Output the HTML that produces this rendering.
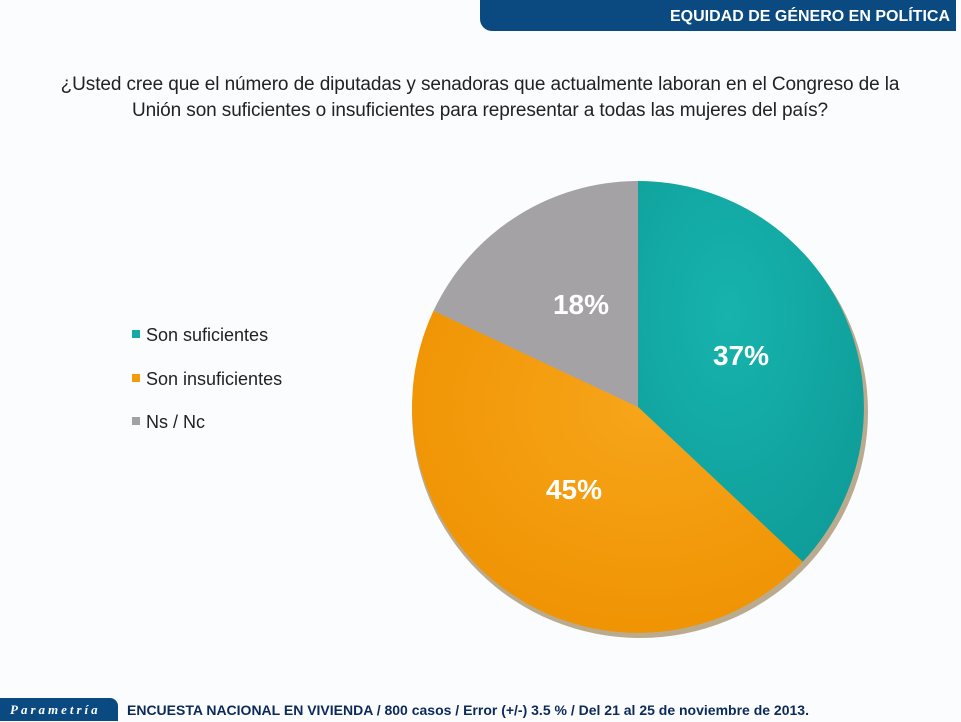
<!DOCTYPE html>
<html><head><meta charset="utf-8"><style>
body{margin:0;width:961px;height:721px;overflow:hidden;background:#fbfcfd;font-family:"Liberation Sans",sans-serif;position:relative}
.hdr{position:absolute;left:480px;top:0;width:476px;height:31px;background:#0b4a80;border-bottom-left-radius:12px;color:#fff;font-weight:bold;font-size:16px;text-align:right;box-sizing:border-box;padding-right:6px;line-height:33px}
.q{position:absolute;left:10px;top:72px;width:940px;text-align:center;font-size:19px;color:#222;line-height:26px;letter-spacing:-0.1px}
.leg{position:absolute;left:132px;font-size:18px;color:#222}
.leg i{display:inline-block;width:8px;height:8px;margin-right:6px;vertical-align:middle;position:relative;top:-2px}
.logo{position:absolute;left:0;top:698px;width:118px;height:23px;background:#0b4a80;border-top-right-radius:8px;color:#fff;font-family:"Liberation Serif",serif;font-style:italic;font-weight:bold;font-size:13px;letter-spacing:3px;line-height:24px;padding-left:10px;box-sizing:border-box}
.ft{position:absolute;left:127px;top:702px;font-size:14px;font-weight:bold;color:#0b2a5a}
</style></head><body>
<div class="hdr">EQUIDAD DE GÉNERO EN POLÍTICA</div>
<div class="q">¿Usted cree que el número de diputadas y senadoras que actualmente laboran en el Congreso de la<br>Unión son suficientes o insuficientes para representar a todas las mujeres del país?</div>
<div class="leg" style="top:325px"><i style="background:#13aaa5"></i>Son suficientes</div>
<div class="leg" style="top:369px"><i style="background:#f49b0b"></i>Son insuficientes</div>
<div class="leg" style="top:412px"><i style="background:#a3a1a3"></i>Ns / Nc</div>
<svg style="position:absolute;left:0;top:0" width="961" height="721">
<defs>
<radialGradient id="g1" cx="0.4" cy="0.35" r="0.8"><stop offset="0" stop-color="#17b3ad"/><stop offset="1" stop-color="#0e9b97"/></radialGradient>
<radialGradient id="g2" cx="0.6" cy="0.3" r="0.8"><stop offset="0" stop-color="#f7a51a"/><stop offset="1" stop-color="#ee9100"/></radialGradient>
</defs>
<ellipse cx="640" cy="412" rx="228" ry="226" fill="#7a5a20" opacity="0.5"/>
<path d="M638,407 L638,181 A226,226 0 0 1 802.7,561.7 Z" fill="url(#g1)"/>
<path d="M638,407 L802.7,561.7 A226,226 0 0 1 433.5,310.8 Z" fill="url(#g2)"/>
<path d="M638,407 L433.5,310.8 A226,226 0 0 1 638,181 Z" fill="#a4a2a4"/>
<g font-family="Liberation Sans" font-weight="bold" font-size="28" fill="#fff" text-anchor="middle">
<text x="741" y="365">37%</text>
<text x="574" y="499">45%</text>
<text x="581" y="314">18%</text>
</g>
</svg>
<div class="logo">Parametría</div>
<div class="ft">ENCUESTA NACIONAL EN VIVIENDA / 800 casos / Error (+/-) 3.5 % / Del 21 al 25 de noviembre de 2013.</div>
</body></html>
